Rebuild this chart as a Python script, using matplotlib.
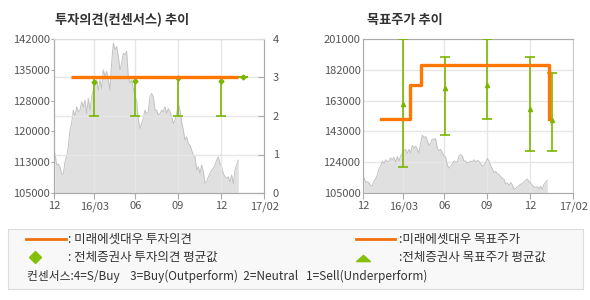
"""Two Korean consensus panels: investment opinion trend and target price trend."""

import numpy as np
import matplotlib
matplotlib.use("Agg")
import matplotlib.pyplot as plt

plt.rcParams["font.family"] = ["Noto Sans CJK KR", "DejaVu Sans"]

# share price (daily-ish, read from the grey area)
price = [
    114500, 111700, 112000, 111300, 109500, 109500, 112500, 113700, 116100, 120100,
    121700, 124900, 123300, 125700, 124500, 124900, 126900, 125700, 127300, 124100,
    127700, 124900, 128100, 129700, 131400, 132200, 129700, 132200, 130100, 134600,
    133000, 134200, 132200, 129700, 136200, 141000, 139400, 140200, 137800, 134600,
    136200, 138600, 138200, 139000, 133000, 131400, 132200, 130100, 128100, 127300,
    122500, 120500, 121700, 122900, 124900, 124100, 124500, 128100, 128900, 128100,
    124900, 124900, 123700, 124100, 124900, 124500, 125700, 124100, 125300, 124500,
    123300, 121700, 122500, 124100, 126500, 124900, 122100, 120100, 117700, 118500,
    116900, 116500, 115300, 114100, 113700, 110500, 111300, 109700, 111700, 110100,
    107300, 107700, 108900, 109700, 110500, 110900, 111700, 112900, 113700, 112100,
    111300, 109700, 108900, 108500, 108900, 107700, 109300, 107300, 110500, 111700,
    112900,
]
price_x = np.arange(len(price)) + 0.4

x_ticks = [0, 24, 48.6, 74, 100, 126]
x_labels = ["12", "16/03", "06", "09", "12", "17/02"]

# 미래에셋대우 투자의견 (3 = Buy)
op_x = [10, 110.5]
op_val = [3, 3]
# 전체증권사 투자의견: position, mean, low, high
cons_x = [24, 48.6, 74, 100, 113]
cons_mean = [2.89, 2.9, 2.98, 2.91, 3.0]
cons_low = [2, 2, 2, 2, 3]
cons_high = [3, 3, 3, 3, 3]

# 미래에셋대우 목표주가 (step changes)
tp_x = [10.6, 27.8, 34.6, 111.2]
tp_val = [151000, 172500, 185000, 151000]
# 전체증권사 목표주가: mean, low, high
tpc_x = [24, 48.8, 74, 100, 113]
tpc_mean = [160500, 170500, 172500, 157500, 150500]
tpc_low = [121000, 141000, 151000, 131000, 131000]
tpc_high = [201000, 190000, 201000, 190000, 180000]

left_ticks = ["105000", "113000", "120000", "128000", "135000", "142000"]
right_ticks = ["105000", "124000", "143000", "163000", "182000", "201000"]

ORANGE = "#FF7700"
GREEN = "#79B700"
FILL = "#E0E0E0"
EDGE = "#C2C2C2"
SPINE = "#AAAAAA"
GRID = "#E6E6E6"
TXT = "#555555"

W, H = 590, 300
fig = plt.figure(figsize=(W / 100, H / 100), dpi=100)
fig.patch.set_facecolor("white")


def style(ax):
    for s in ax.spines.values():
        s.set_color(SPINE)
    ax.spines["top"].set_color("#DDDDDD")
    ax.tick_params(colors=TXT, labelsize=8, length=4, width=0.8)
    ax.tick_params(axis="x", color=SPINE, pad=2)
    ax.tick_params(axis="y", color=SPINE)


# ---- left: investment opinion ----
ax = fig.add_axes([54.3 / W, 1 - 193 / H, 210 / W, 154 / H])
ax.fill_between(price_x, 105000, price, color=FILL, lw=0)
ax.plot(price_x, price, color=EDGE, lw=0.7)
ax.set_xlim(0, 126)
ax.set_ylim(105000, 142000)
ax.set_yticks(np.linspace(105000, 142000, 6))
ax.set_yticklabels(left_ticks)
ax.set_xticks(x_ticks)
ax.set_xticklabels(x_labels)
style(ax)
ax.tick_params(axis="y", length=2, pad=1)

ax2 = ax.twinx()
ax2.set_ylim(0, 4)
ax2.set_yticks([0, 1, 2, 3, 4])
ax2.grid(axis="y", color=GRID, lw=1)
for t in x_ticks[1:-1]:
    ax2.axvline(t, color=GRID, lw=1, zorder=0.5)
style(ax2)
ax2.tick_params(axis="y", direction="in", length=4, pad=6)
cons_mean = np.array(cons_mean)
ax2.errorbar(cons_x, cons_mean,
             yerr=[cons_mean - np.array(cons_low), np.array(cons_high) - cons_mean],
             fmt="D", ms=2.5, color=GREEN, ecolor=GREEN, elinewidth=1.2,
             capsize=3.6, capthick=1.2, zorder=3)
ax2.plot(op_x, op_val, color=ORANGE, lw=2.4, solid_capstyle="butt", zorder=4)

fig.text(55 / W, 1 - 20 / H, "투자의견(컨센서스) 추이", fontsize=9.5,
         fontweight="bold", color="#333333", va="center")

# ---- right: target price ----
ax3 = fig.add_axes([363.3 / W, 1 - 193 / H, 210 / W, 154 / H])
ax3.set_axisbelow("line")
ax3.fill_between(price_x, 105000, price, color=FILL, lw=0)
ax3.plot(price_x, price, color=EDGE, lw=0.7)
ax3.set_xlim(0, 126)
ax3.set_ylim(105000, 201000)
ax3.set_yticks(np.linspace(105000, 201000, 6))
ax3.set_yticklabels(right_ticks)
ax3.set_xticks(x_ticks)
ax3.set_xticklabels(x_labels)
ax3.grid(color=GRID, lw=1)
style(ax3)
ax3.spines["top"].set_color(SPINE)
ax3.spines["right"].set_color("#CCCCCC")
ax3.tick_params(axis="y", length=0, pad=2)
tpc_mean = np.array(tpc_mean)
ax3.errorbar(tpc_x, tpc_mean,
             yerr=[tpc_mean - np.array(tpc_low), np.array(tpc_high) - tpc_mean],
             fmt="^", ms=3, color=GREEN, ecolor=GREEN, elinewidth=1.2,
             capsize=3.6, capthick=1.2, zorder=3)
ax3.step(tp_x, tp_val, where="post", color=ORANGE, lw=2.4, zorder=4)

fig.text(367 / W, 1 - 20 / H, "목표주가 추이", fontsize=9.5,
         fontweight="bold", color="#333333", va="center")

# ---- legend box ----
lg = fig.add_axes([8 / W, 1 - 289 / H, 575 / W, 60 / H])
lg.set_xlim(0, 575)
lg.set_ylim(60, 0)
lg.set_facecolor("#F8F8F8")
lg.set_xticks([])
lg.set_yticks([])
for s in lg.spines.values():
    s.set_color("#DDDDDD")

lg.plot([17.7, 57.7], [10.3, 10.3], color="#F07010", lw=2)
lg.text(60.3, 10.5, ": 미래에셋대우 투자의견", fontsize=9, color="#333333", va="center")
lg.plot([27], [28], marker="D", ms=6.5, color="#84C00A", mec="#84C00A")
lg.text(60.3, 28.5, ": 전체증권사 투자의견 평균값", fontsize=9, color="#333333", va="center")

lg.plot([348, 387], [9.7, 9.7], color="#F07010", lw=2)
lg.text(391, 10.5, ":미래에셋대우 목표주가", fontsize=9, color="#333333", va="center")
lg.plot([355], [29], marker=[(-1, -0.45), (1, -0.45), (0, 0.45), (-1, -0.45)],
        ms=10, color="#84C00A", mec="#84C00A")
lg.text(391, 28.5, ":전체증권사 목표주가 평균값", fontsize=9, color="#333333", va="center")

lg.text(18.7, 47, "컨센서스:4=S/Buy    3=Buy(Outperform)  2=Neutral   1=Sell(Underperform)",
        fontsize=8.5, color="#333333", va="center")

fig.savefig("out.png", dpi=100, facecolor="white")
